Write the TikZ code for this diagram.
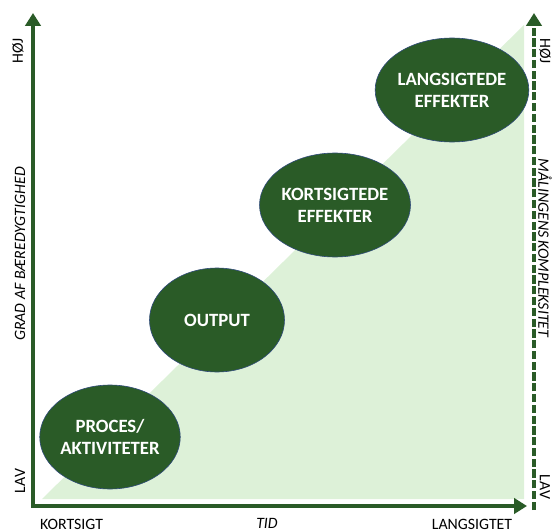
\documentclass[tikz,border=0pt]{standalone}
\usepackage{fontspec}
\setmainfont{Carlito}
\usetikzlibrary{arrows.meta,shapes.geometric}
\definecolor{darkgreen}{RGB}{42,91,39}
\definecolor{palegreen}{RGB}{221,241,216}
\definecolor{rimblue}{RGB}{47,74,122}
\begin{document}
\begin{tikzpicture}[x=0.03cm,y=-0.03cm,
  axis/.style={darkgreen,line width=4pt,line join=miter},
  stage/.style={ellipse,fill=darkgreen,draw=rimblue,line width=0.5pt,
    minimum width=4.05cm,minimum height=3.12cm,inner sep=0pt,align=center,
    text=white,font=\bfseries\fontsize{16}{19}\selectfont},
  lbl/.style={font=\fontsize{13.5}{15}\selectfont,inner sep=0pt},
  ilbl/.style={font=\itshape\fontsize{13.5}{15}\selectfont,inner sep=0pt}]

\useasboundingbox (0,0) rectangle (552,532);

\fill[palegreen] (42,499) -- (524,499) -- (524,25) -- cycle;

\coordinate (ytop) at (33,13);
\coordinate (origin) at (33,506);
\coordinate (xend) at (527,506);
\coordinate (rbot) at (534,510);
\coordinate (rtop) at (534,13);

\draw[axis,{Triangle[length=11pt,width=13pt]}-{Triangle[length=11pt,width=13pt]}] (ytop) -- (origin) -- (xend);
\draw[axis,dash pattern=on 7pt off 2.2pt,-{Triangle[length=11pt,width=13pt]}] (rbot) -- (rtop);

\node[stage] (proces) at (110,437) {PROCES/\\AKTIVITETER};
\node[stage] (output) at (217,320) {OUTPUT};
\node[stage] (kort) at (335,205) {KORTSIGTEDE\\EFFEKTER};
\node[stage] (lang) at (452,90) {LANGSIGTEDE\\EFFEKTER};

\node[lbl,rotate=90] (hojl) at (18,51) {HØJ};
\node[ilbl,rotate=90] (grad) at (20,254) {GRAD AF BÆREDYGTIGHED};
\node[lbl,rotate=90] (lavl) at (20,481) {LAV};

\node[lbl,rotate=-90] (hojr) at (545,51) {HØJ};
\node[ilbl,rotate=-90] (maal) at (545,248) {MÅLINGENS KOMPLEKSITET};
\node[lbl,rotate=-90] (lavr) at (545,487) {LAV};

\node[lbl,anchor=west] (kortsigt) at (40,524) {KORTSIGT};
\node[ilbl] (tid) at (267,523) {TID};
\node[lbl] (langsigt) at (472,524) {LANGSIGTET};
\end{tikzpicture}
\end{document}
